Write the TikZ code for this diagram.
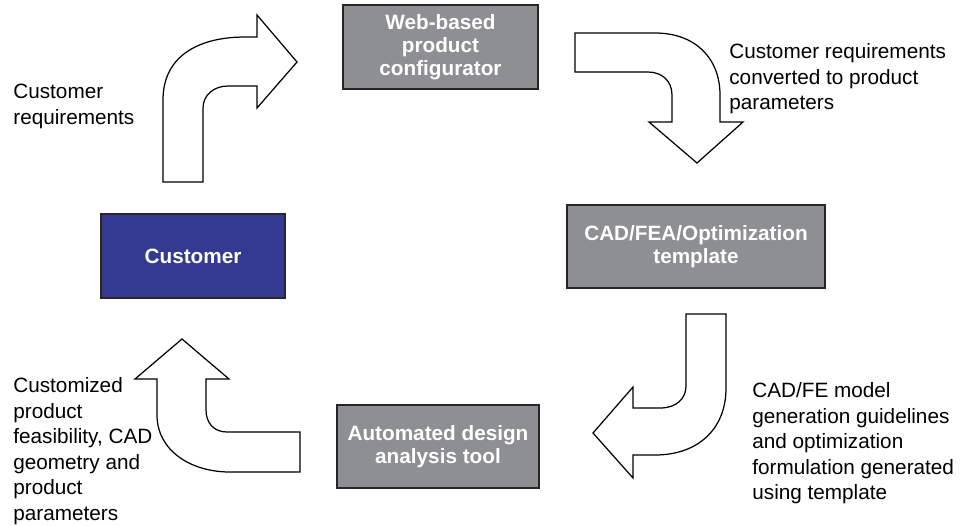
\documentclass[tikz,border=0pt]{standalone}
\usepackage{fontspec}
\setmainfont{Liberation Sans}
\definecolor{boxgray}{RGB}{142,143,147}
\definecolor{custblue}{RGB}{52,57,145}

\begin{document}
\begin{tikzpicture}[x=0.02cm, y=-0.02cm,
    box/.style = {draw=black!85, line width=0.8pt, fill=boxgray, text=white,
      font=\bfseries\fontsize{11.8}{13}\selectfont, align=center, inner sep=0pt},
    note/.style = {anchor=north west, align=left, inner sep=0pt,
      font=\fontsize{11.8}{14.6}\selectfont},
    bent/.style = {draw, line width=0.7pt, fill=white, line join=miter}]
    \useasboundingbox (0,0) rectangle (962,525);

    % Nodes

    \node[box, minimum width=3.9cm, minimum height=1.68cm] (conf) at (440.5, 47) {Web-based\\product\\configurator};
    \node[box, minimum width=5.16cm, minimum height=1.66cm] (tmpl) at (696, 246.5) {CAD/FEA/Optimization\\template};
    \node[box, minimum width=4.04cm, minimum height=1.66cm] (tool) at (438, 446.5) {Automated design\\analysis tool};
    \node[box, fill=custblue, minimum width=3.68cm, minimum height=1.68cm] (cust) at (193, 256) {Customer};

    \node[note] (req) at (13, 84) {Customer\\requirements};
    \node[note] (conv) at (729, 43) {Customer requirements\\converted to product\\parameters};
    \node[note] (gen) at (752, 382) {CAD/FE model\\generation guidelines\\and optimization\\formulation generated\\using template};
    \node[note] (feas) at (13, 377) {Customized\\product\\feasibility, CAD\\geometry and\\product\\parameters};

    % Bent arrows

    \draw[bent] (163,182) -- (163,100) .. controls (163,55) and (200,37) .. (245,37)
        -- (257,37) -- (257,15) -- (297,62) -- (257,108) -- (257,86) -- (228,86)
        .. controls (214,86) and (203,95) .. (203,108) -- (203,182) -- cycle;

    \draw[bent] (575,33) -- (655,33) .. controls (695,33) and (720,58) .. (720,95)
        -- (720,122) -- (743,122) -- (697,163) -- (649,122) -- (672,122) -- (672,95)
        .. controls (672,81) and (662,72) .. (648,72) -- (575,72) -- cycle;

    \draw[bent] (686,314) -- (726,314) -- (726,388) .. controls (726,430) and (697,455) .. (655,455)
        -- (633,455) -- (633,478) -- (593,433) -- (633,387) -- (633,408) -- (660,408)
        .. controls (676,408) and (686,399) .. (686,386) -- cycle;

    \draw[bent] (157,379) -- (157,415) .. controls (157,450) and (190,472) .. (230,472)
        -- (300,472) -- (300,432) -- (227,432) .. controls (214,432) and (206,423) .. (206,410)
        -- (206,379) -- (229,379) -- (182,339) -- (135,379) -- cycle;

\end{tikzpicture}
\end{document}
